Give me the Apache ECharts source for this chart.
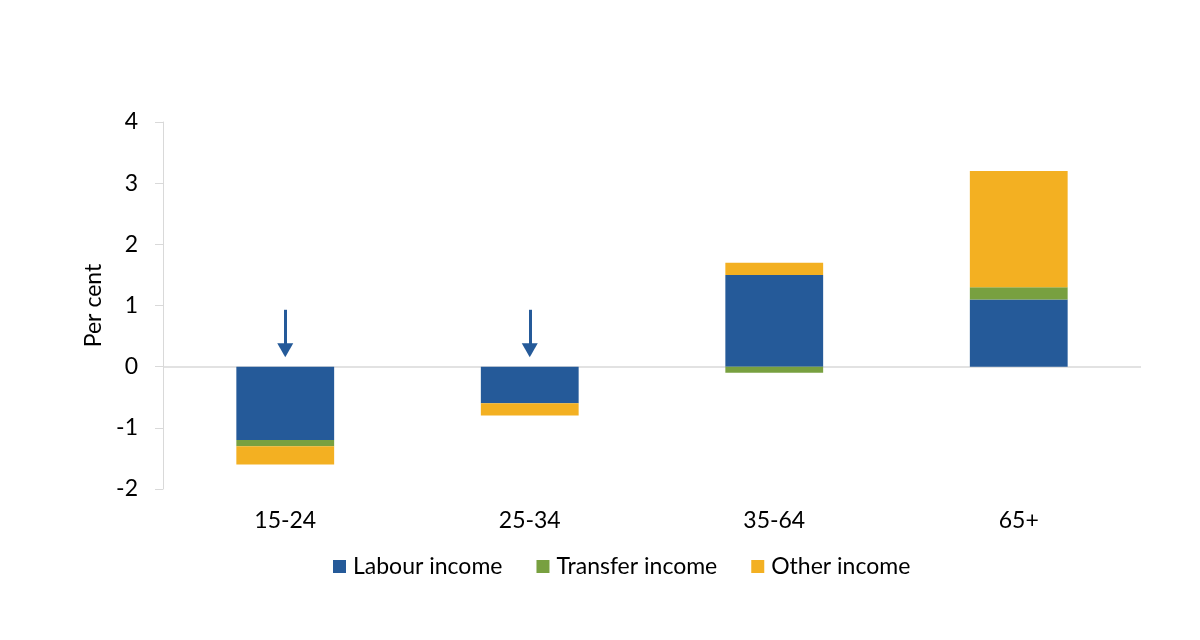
<!DOCTYPE html>
<html>
<head>
<meta charset="utf-8">
<script src="https://cdn.jsdelivr.net/npm/echarts@6/dist/echarts.min.js"></script>
<style>html,body{margin:0;padding:0;background:#fff}#c{width:1200px;height:640px}</style>
</head>
<body>
<div id="c"></div>
<script>
const categories = ['15-24', '25-34', '35-64', '65+'];
const labourIncome = [-1.2, -0.6, 1.5, 1.1];
const transferIncome = [-0.1, 0, -0.1, 0.2];
const otherIncome = [-0.3, -0.2, 0.2, 1.9];
const yTicks = [-2, -1, 0, 1, 2, 3, 4];
const arrowCategories = ['15-24', '25-34'];
const arrowTop = [0.93, 0.93];
const arrowEnd = [0.27, 0.27];

const FONT = 'Lato';
const FS = 23;
const chart = echarts.init(document.getElementById('c'), null, {renderer: 'canvas'});

const arrowData = arrowCategories.map((c, i) => [
  {coord: [c, arrowTop[i]]},
  {coord: [c, arrowEnd[i]]}
]);

chart.setOption({
  animation: false,
  textStyle: {fontFamily: FONT},
  grid: {left: 163, right: 59, top: 122, bottom: 151},
  legend: {
    bottom: 57,
    left: 328,
    itemWidth: 13,
    itemHeight: 13,
    itemGap: 34,
    icon: 'rect',
    textStyle: {fontFamily: FONT, fontSize: FS, color: '#000', padding: [0, 0, 0, 2]},
    data: ['Labour income', 'Transfer income', 'Other income']
  },
  xAxis: {
    type: 'category',
    data: categories,
    position: 'bottom',
    axisLine: {show: false, onZero: false},
    axisTick: {show: false},
    axisLabel: {fontFamily: FONT, fontSize: FS, color: '#000', margin: 20}
  },
  yAxis: {
    type: 'value',
    min: yTicks[0],
    max: yTicks[yTicks.length - 1],
    interval: 1,
    name: 'Per cent',
    nameLocation: 'middle',
    nameGap: 50,
    nameRotate: 90,
    nameTextStyle: {fontFamily: FONT, fontSize: FS, color: '#000'},
    axisLine: {show: true, lineStyle: {color: '#d9d9d9', width: 1}},
    axisTick: {show: true, length: 8, lineStyle: {color: '#d9d9d9'}},
    axisLabel: {fontFamily: FONT, fontSize: FS, color: '#000', margin: 25},
    splitLine: {show: false}
  },
  series: [
    {
      name: 'Labour income', type: 'bar', stack: 'a', data: labourIncome,
      barWidth: '40%',
      itemStyle: {color: '#255A99'},
      markLine: {
        silent: true,
        symbol: ['none', 'none'],
        label: {show: false},
        lineStyle: {color: '#d9d9d9', width: 1.5, type: 'solid'},
        data: [{yAxis: 0}],
        z: 1
      }
    },
    {
      name: 'Transfer income', type: 'bar', stack: 'a', data: transferIncome,
      barWidth: '40%',
      itemStyle: {color: '#78A040'}
    },
    {
      name: 'Other income', type: 'bar', stack: 'a', data: otherIncome,
      barWidth: '40%',
      itemStyle: {color: '#F3B022'},
      markLine: {
        silent: true,
        symbol: ['none', 'triangle'],
        symbolSize: [16, 14],
        label: {show: false},
        lineStyle: {color: '#255A99', width: 3, type: 'solid'},
        itemStyle: {color: '#255A99'},
        data: arrowData
      }
    }
  ]
});
</script>
</body>
</html>
